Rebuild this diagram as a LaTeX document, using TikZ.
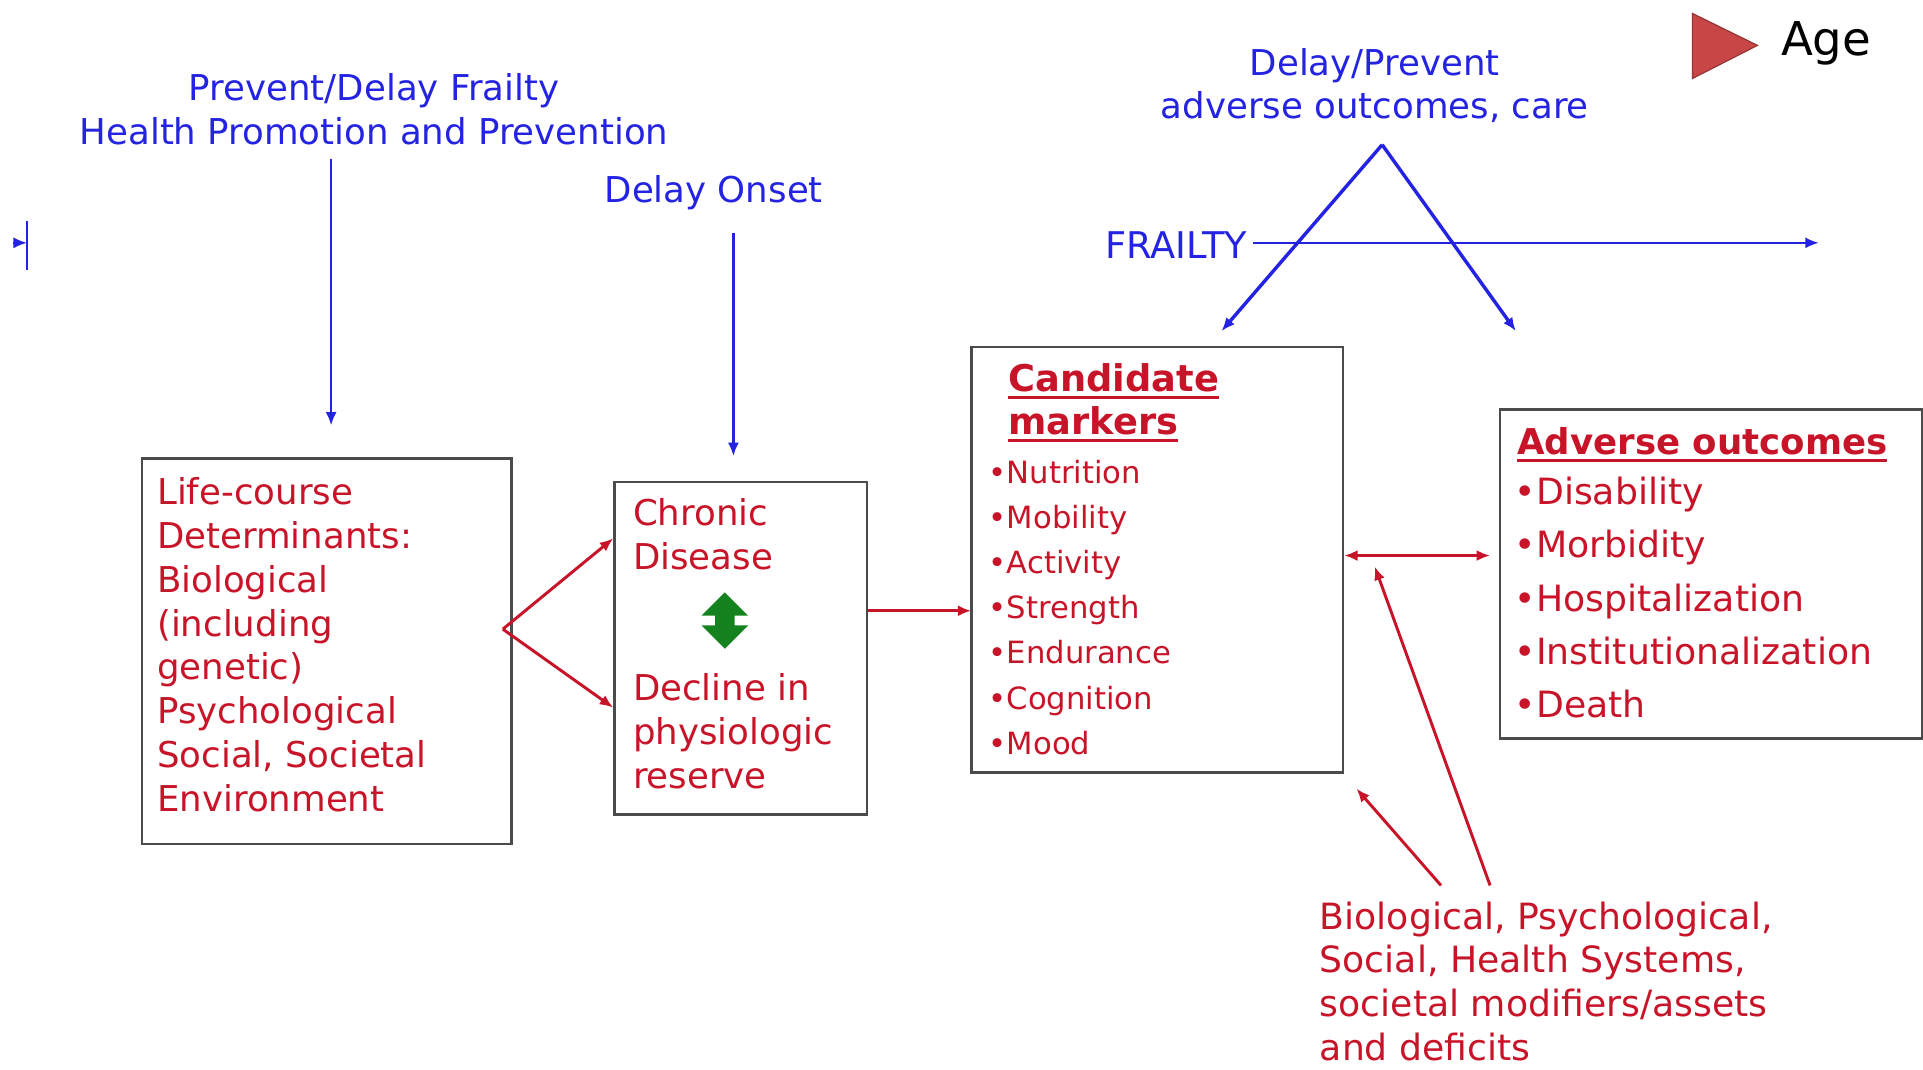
\documentclass[tikz,border=0pt]{standalone}
\usepackage{fontspec}
\setmainfont{DejaVu Sans}
\usepackage{tikz}
\usetikzlibrary{arrows.meta}
\definecolor{frblue}{RGB}{35,35,225}
\definecolor{frred}{RGB}{200,20,40}
\definecolor{boxgray}{RGB}{75,75,75}
\definecolor{agered}{RGB}{200,70,70}
\definecolor{dgreen}{RGB}{20,130,30}
\newcommand{\uln}[1]{\setbox0=\hbox{#1}\rlap{\rule[-6.5pt]{\wd0}{2.8pt}}\box0}
\newcommand{\fsz}[2]{\fontsize{#1}{#2}\selectfont}
\tikzset{
    box/.style={draw=boxgray, line width=2pt, anchor=north west, inner sep=0pt},
    redtxt/.style={text=frred, anchor=north west, align=left, inner sep=0pt},
    bluetxt/.style={text=frblue, anchor=north, align=center, inner sep=0pt, font=\fsz{29}{35.5}},
    bluearr/.style={frblue, line width=2.2pt, -{Latex[length=11pt,width=9pt]}},
    redarr/.style={frred, line width=2.4pt, -{Latex[length=11pt,width=9pt]}},
}

\begin{document}
\begin{tikzpicture}[x=1pt, y=-1pt]
\useasboundingbox (0,0) rectangle (1568,872);

% blue texts and frailty axis
\node[bluetxt] (prevent) at (305,60) {Prevent/Delay Frailty\\Health Promotion and Prevention};
\node[bluetxt] (onset) at (582,143) {Delay Onset};
\node[bluetxt] (care) at (1121,39) {Delay/Prevent\\adverse outcomes, care};
\node[bluetxt, anchor=east, font=\fsz{30}{35.5}] (frail) at (1017,200) {FRAILTY};

\coordinate (axisend) at (1483,198);
\draw[bluearr, line width=1.6pt] ([xshift=5pt,yshift=2pt]frail.east) -- (axisend);
\coordinate (axisbar) at (22,198);
\draw[bluearr, line width=1.6pt] (11,198) -- (axisbar);
\draw[frblue, line width=1.6pt] ([yshift=18pt]axisbar) -- ([yshift=-22pt]axisbar);

\coordinate (s1) at (270,130);
\coordinate (e1) at (270,347);
\draw[bluearr] (s1) -- (e1);
\coordinate (s2) at (598,190);
\coordinate (e2) at (598,372);
\draw[bluearr] (s2) -- (e2);

\coordinate (apex) at (1127,118);
\coordinate (lfoot) at (996,270);
\coordinate (rfoot) at (1236,270);
\draw[bluearr, line width=2.8pt] (apex) -- (lfoot);
\draw[bluearr, line width=2.8pt] (apex) -- (rfoot);

% age
\fill[agered, draw=agered!75!black, line width=1pt] (1380,11) -- (1380,64) -- (1433,37) -- cycle;
\node[anchor=base west, inner sep=0pt, font=\fsz{38}{40}] (age) at (1452,45) {Age};

% boxes
\node[box, minimum width=301pt, minimum height=314pt] (life) at (115,373) {};
\node[box, minimum width=206pt, minimum height=271pt] (chronic) at (500,392) {};
\node[box, minimum width=303pt, minimum height=347pt] (cand) at (791,282) {};
\node[box, minimum width=344pt, minimum height=268pt] (adverse) at (1222,333) {};

\node[redtxt, font=\fsz{29}{35.8}] (lifetxt) at (128,389) {Life-course\\Determinants:\\Biological\\(including\\genetic)\\Psychological\\Social, Societal\\Environment};

\node[redtxt, font=\fsz{29}{35.8}] (chrtxt) at (516,406) {Chronic\\Disease};
\node[redtxt, font=\fsz{29}{35.8}] (dectxt) at (516,549) {Decline in\\physiologic\\reserve};
\fill[dgreen] (591,483) -- (610,502) -- (599,502) -- (599,510) -- (610,510) -- (591,529)
    -- (572,510) -- (583,510) -- (583,502) -- (572,502) -- cycle;

\node[redtxt, font=\bfseries\fsz{30}{35}] (candhead) at (822,296) {\uln{Candidate}\\\uln{markers}};
\node[redtxt, font=\fsz{25}{36.8}] (candlist) at (806,375) {•Nutrition\\•Mobility\\•Activity\\•Strength\\•Endurance\\•Cognition\\•Mood};

\node[redtxt, font=\bfseries\fsz{29}{35}] (advhead) at (1237,348) {\uln{Adverse outcomes}};
\node[redtxt, font=\fsz{29.5}{43.3}] (advlist) at (1235,389) {•Disability\\•Morbidity\\•Hospitalization\\•Institutionalization\\•Death};

\node[redtxt, font=\fsz{29.5}{35.7}] (mods) at (1076,735) {Biological, Psychological,\\Social, Health Systems,\\societal modifiers/assets\\and deficits};

% red connectors
\coordinate (vtx) at (410,513);
\draw[redarr] (vtx) -- ([yshift=89.5pt]chronic.west);
\draw[redarr] (vtx) -- ([yshift=-48.5pt]chronic.west);
\draw[redarr] ([yshift=30.5pt]chronic.east) -- ++(84,0);
\draw[redarr, {Latex[length=11pt,width=9pt]}-{Latex[length=11pt,width=9pt]}] ([yshift=3.5pt]cand.east) -- ++(119,0);
\coordinate (m1) at (1175,722);
\coordinate (m2) at (1215,722);
\coordinate (t1) at (1106,643);
\coordinate (t2) at (1121,462);
\draw[redarr] (m1) -- (t1);
\draw[redarr] (m2) -- (t2);
\end{tikzpicture}
\end{document}
